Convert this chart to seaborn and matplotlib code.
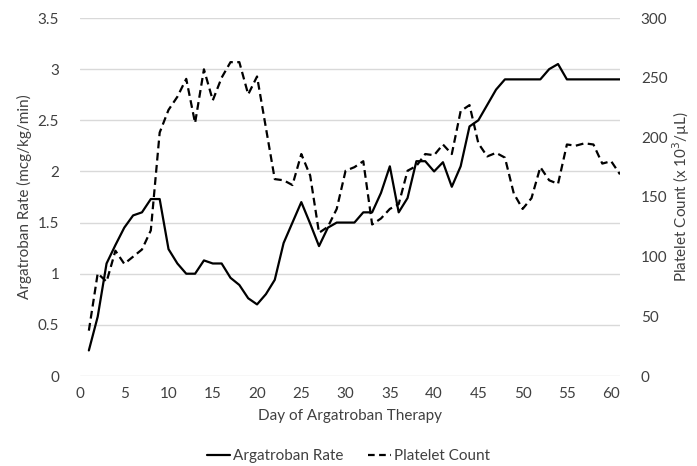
import matplotlib
matplotlib.use("Agg")
import matplotlib.pyplot as plt
import seaborn as sns
import pandas as pd
from matplotlib.lines import Line2D

days = list(range(1, 62))
argatroban_rate = [0.25, 0.58, 1.10, 1.28, 1.45, 1.57, 1.60, 1.73, 1.73, 1.24,
                   1.10, 1.00, 1.00, 1.13, 1.10, 1.10, 0.96, 0.89, 0.76, 0.70,
                   0.80, 0.94, 1.30, 1.50, 1.70, 1.49, 1.27, 1.45, 1.50, 1.50,
                   1.50, 1.60, 1.60, 1.79, 2.05, 1.60, 1.74, 2.10, 2.10, 2.00,
                   2.09, 1.85, 2.05, 2.44, 2.50, 2.65, 2.80, 2.90, 2.90, 2.90,
                   2.90, 2.90, 3.00, 3.05, 2.90, 2.90, 2.90, 2.90, 2.90, 2.90,
                   2.90]
platelet_count = [38, 86, 79, 105, 94, 100, 106, 122, 204, 223,
                  234, 249, 212, 257, 231, 250, 263, 263, 236, 251,
                  208, 165, 164, 160, 186, 168, 120, 125, 140, 172,
                  175, 180, 127, 132, 140, 144, 172, 176, 186, 185,
                  194, 186, 222, 227, 195, 184, 187, 183, 153, 140,
                  149, 175, 164, 161, 194, 193, 195, 194, 178, 180,
                  169]
x_ticks = list(range(0, 61, 5))
left_ticks = [0, 0.5, 1, 1.5, 2, 2.5, 3, 3.5]
left_tick_labels = ["0", "0.5", "1", "1.5", "2", "2.5", "3", "3.5"]
right_ticks = [0, 50, 100, 150, 200, 250, 300]

df = pd.DataFrame({"day": days, "rate": argatroban_rate, "plt": platelet_count})

sns.set_theme(style="white")
plt.rcParams["font.family"] = ["Lato", "DejaVu Sans"]
txt = "#404040"

fig = plt.figure(figsize=(6.97, 4.66), dpi=100)
ax = fig.add_axes([80 / 697, 1 - 376 / 466, 540 / 697, 358 / 466])
ax2 = ax.twinx()

sns.lineplot(data=df, x="day", y="rate", ax=ax, color="black", linewidth=1.6)
sns.lineplot(data=df, x="day", y="plt", ax=ax2, color="black", linewidth=1.6,
             linestyle=(0, (3.5, 2)))

ax.set_xlim(0, 61)
ax.set_ylim(0, 3.5)
ax2.set_ylim(0, 300)
ax.set_yticks(left_ticks)
ax.set_yticklabels(left_tick_labels)
ax2.set_yticks(right_ticks)
ax.set_xticks(x_ticks)

ax.grid(axis="y", color="#d9d9d9", linewidth=1.0)
ax.grid(axis="x", visible=False)
ax2.grid(False)
for a in (ax, ax2):
    for s in a.spines.values():
        s.set_visible(False)
    a.tick_params(length=0, labelsize=11, colors=txt)
ax.tick_params(axis="y", pad=15)
ax.tick_params(axis="x", pad=8)
ax2.tick_params(axis="y", pad=15)

ax.set_xlabel("Day of Argatroban Therapy", fontsize=11, color=txt, labelpad=6)
ax.set_ylabel("Argatroban Rate (mcg/kg/min)", fontsize=11, color=txt, labelpad=4)
ax2.set_ylabel("Platelet Count (x 10$^3$/µL)", fontsize=11, color=txt, labelpad=2)

handles = [Line2D([], [], color="black", linewidth=1.6),
           Line2D([], [], color="black", linewidth=1.6, linestyle=(0, (3, 2)))]
fig.legend(handles, ["Argatroban Rate", "Platelet Count"], loc="center",
           bbox_to_anchor=(0.5, 1 - 456 / 466), ncol=2, frameon=False,
           fontsize=11, handlelength=1.5, handletextpad=0.2, columnspacing=1.6,
           labelcolor=txt)

fig.savefig("out.png", dpi=100)
